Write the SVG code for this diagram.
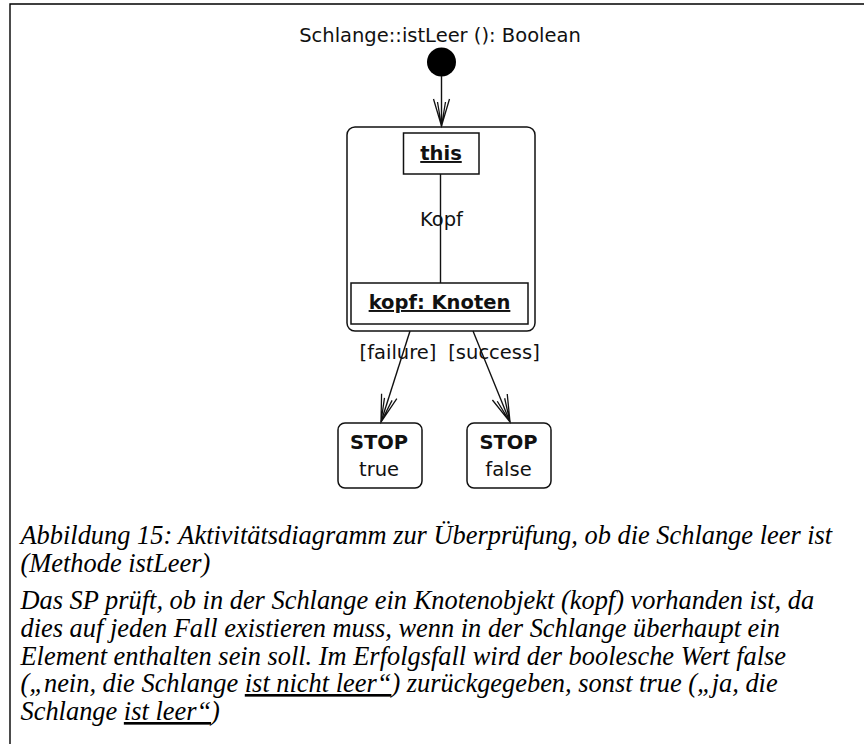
<svg xmlns="http://www.w3.org/2000/svg" width="864" height="744" viewBox="0 0 864 744">
  <style>
    .lbl { font-family: "DejaVu Sans", "Liberation Sans", sans-serif; font-size: 19.5px; fill: #111; }
    .bold { font-weight: bold; }
    .ul { text-decoration: underline; }
    .box { fill: #fff; stroke: #111; stroke-width: 1.5; }
    .edge { fill: none; stroke: #111; stroke-width: 1.4; }
    .cap { font-family: "Liberation Serif", "Times New Roman", serif; font-style: italic; font-size: 26.4px; fill: #000; }
  </style>
  <defs>
    <!-- open UML arrowhead drawn as a doubled V -->
    <marker id="open" markerUnits="userSpaceOnUse" markerWidth="40" markerHeight="30" refX="0" refY="0" viewBox="-30 -15 40 30" orient="auto" overflow="visible">
      <path d="M-27,-8 L0,0 L-27,8 M-24,-4 L0,0 L-24,4" fill="none" stroke="#111" stroke-width="1.3"/>
    </marker>
  </defs>

  <rect width="864" height="744" fill="#fff"/>

  <!-- page frame -->
  <path d="M10,744 V4 H864" fill="none" stroke="#000" stroke-width="1.4"/>

  <!-- activity title -->
  <text class="lbl" x="440" y="42" text-anchor="middle">Schlange::istLeer (): Boolean</text>

  <!-- start node -->
  <g id="start">
    <circle cx="441.5" cy="62" r="14.5" fill="#000"/>
  </g>

  <!-- activity with object structure -->
  <g id="activity">
    <rect class="box" x="347" y="127" width="188" height="204" rx="8" ry="8"/>
  </g>
  <g id="this">
    <rect class="box" x="403.5" y="133" width="75.5" height="41"/>
    <text class="lbl bold ul" x="441" y="160" text-anchor="middle">this</text>
  </g>
  <g id="kopf">
    <rect class="box" x="351" y="283" width="177" height="41"/>
    <text class="lbl bold ul" x="439.5" y="309" text-anchor="middle">kopf: Knoten</text>
  </g>

  <!-- stop nodes -->
  <g id="stop-true">
    <rect class="box" x="338" y="423" width="84" height="65" rx="7" ry="7"/>
    <text class="lbl bold" x="379" y="449" text-anchor="middle">STOP</text>
    <text class="lbl" x="379" y="476" text-anchor="middle">true</text>
  </g>
  <g id="stop-false">
    <rect class="box" x="467" y="423" width="84" height="65" rx="7" ry="7"/>
    <text class="lbl bold" x="508.5" y="449" text-anchor="middle">STOP</text>
    <text class="lbl" x="508.5" y="476" text-anchor="middle">false</text>
  </g>

  <!-- connectors -->
  <g id="connectors">
    <line class="edge" x1="441.5" y1="76" x2="441.5" y2="126" marker-end="url(#open)"/>
    <line class="edge" x1="440.5" y1="174" x2="440.5" y2="283"/>
    <line class="edge" x1="410" y1="331" x2="381" y2="422" marker-end="url(#open)"/>
    <line class="edge" x1="473" y1="331" x2="510" y2="422" marker-end="url(#open)"/>
  </g>

  <!-- connector labels -->
  <text class="lbl" x="441.5" y="226" text-anchor="middle">Kopf</text>
  <text class="lbl" x="398" y="359" text-anchor="middle">[failure]</text>
  <text class="lbl" x="494" y="359" text-anchor="middle">[success]</text>

  <!-- caption and description -->
  <g id="caption">
    <text class="cap" x="20.5" y="544">Abbildung 15: Aktivitätsdiagramm zur Überprüfung, ob die Schlange leer ist</text>
    <text class="cap" x="20.5" y="572">(Methode istLeer)</text>
    <text class="cap" x="20.5" y="609">Das SP prüft, ob in der Schlange ein Knotenobjekt (kopf) vorhanden ist, da</text>
    <text class="cap" x="20.5" y="637">dies auf jeden Fall existieren muss, wenn in der Schlange überhaupt ein</text>
    <text class="cap" x="20.5" y="664.5">Element enthalten sein soll. Im Erfolgsfall wird der boolesche Wert false</text>
    <text class="cap" x="20.5" y="692">(„nein, die Schlange <tspan class="ul">ist nicht leer“</tspan>) zurückgegeben, sonst true („ja, die</text>
    <text class="cap" x="20.5" y="720">Schlange <tspan class="ul">ist leer“</tspan>)</text>
  </g>
</svg>
